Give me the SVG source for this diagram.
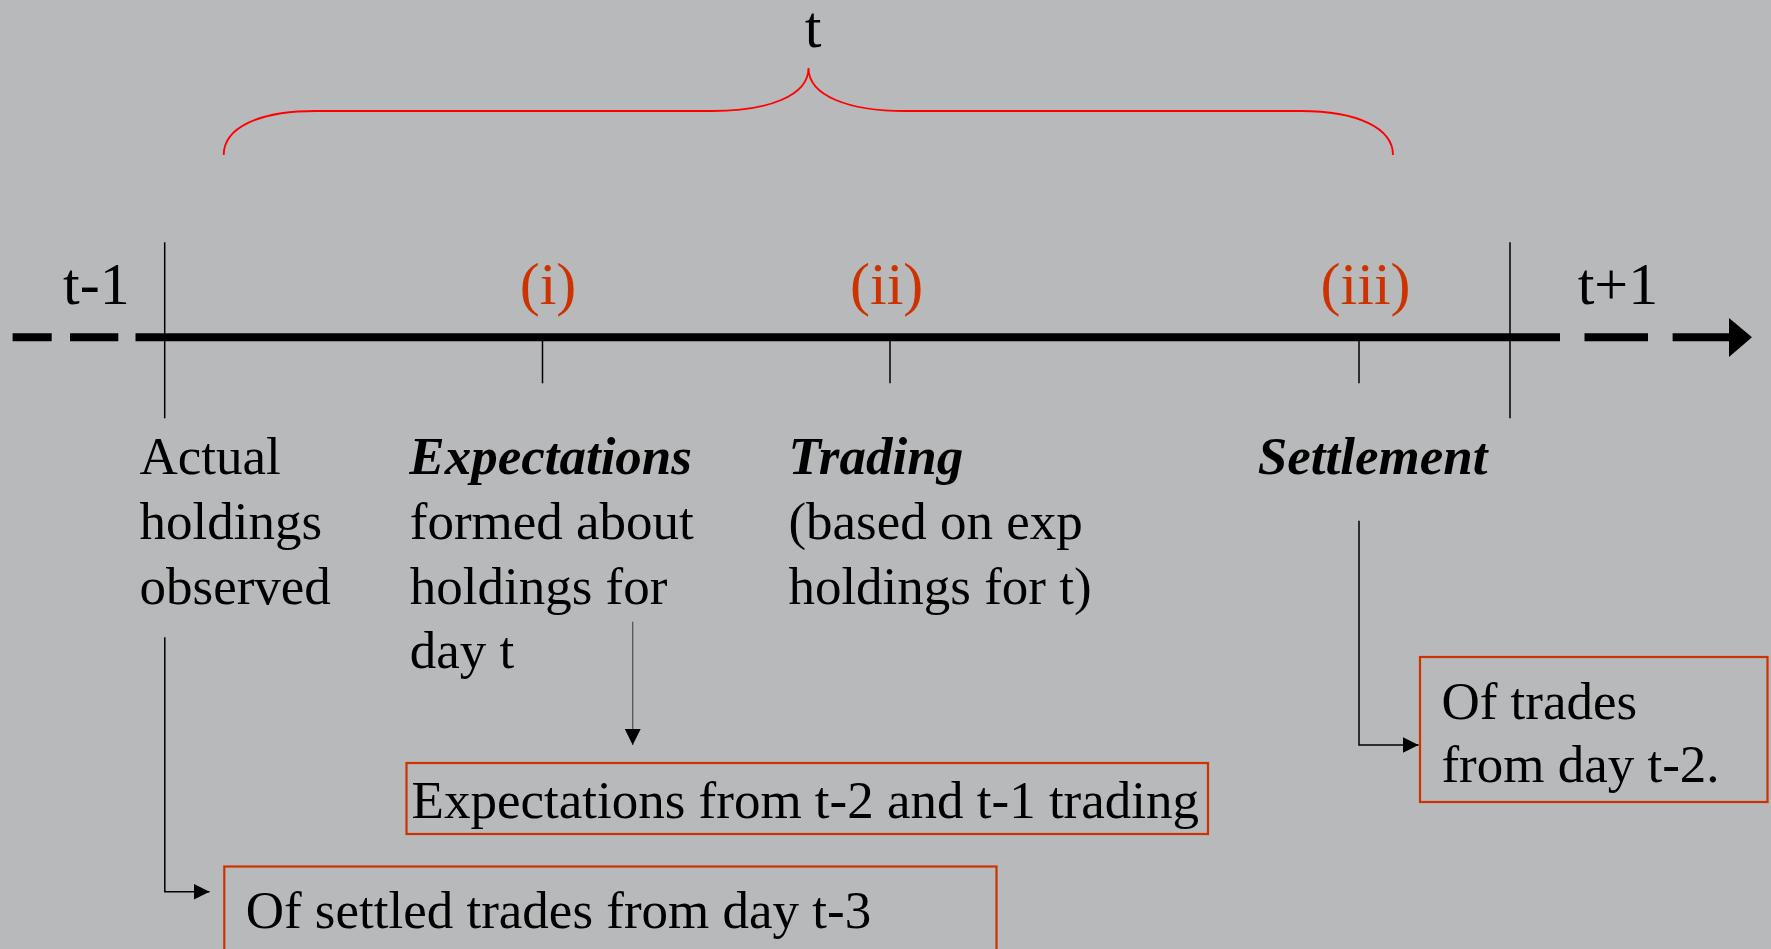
<svg xmlns="http://www.w3.org/2000/svg" width="1771" height="949" viewBox="0 0 1771 949">
  <defs>
    <style>
      .txt { font-family: "Liberation Serif", "Times New Roman", serif; font-size: 53px; fill: #000; }
      .big { font-size: 60px; }
      .bi { font-weight: bold; font-style: italic; }
      .num { font-family: "Liberation Serif", "Times New Roman", serif; font-size: 60px; fill: #cc3300; text-anchor: middle; }
      .tick { stroke: #000; stroke-width: 1.5; fill: none; }
      .box { fill: none; stroke: #cc3300; stroke-width: 2.2; }
      .conn { stroke: #000; stroke-width: 1.5; fill: none; }
    </style>
    <marker id="arr" viewBox="0 0 10 10" refX="10" refY="5" markerWidth="16" markerHeight="16" markerUnits="userSpaceOnUse" orient="auto">
      <path d="M0,0 L10,5 L0,10 Z" fill="#000"/>
    </marker>
  </defs>

  <rect width="1771" height="949" fill="#b8b9bb"/>

  <!-- brace spanning day t -->
  <g id="brace">
    <path d="M223.7 155 C223.7 128 258 111 315.7 111 L712 111 C768 111 808.5 96 808.5 68 C808.5 96 849 111 905 111 L1301 111 C1357 111 1393 128 1393 155" fill="none" stroke="#ff0000" stroke-width="1.8"/>
    <text class="txt big" x="813" y="47" text-anchor="middle">t</text>
  </g>

  <!-- time axis -->
  <g id="axis">
    <line x1="12.6" y1="337.3" x2="51.7" y2="337.3" stroke="#000" stroke-width="8"/>
    <line x1="70" y1="337.3" x2="118.3" y2="337.3" stroke="#000" stroke-width="8"/>
    <line x1="135.5" y1="337.3" x2="1560" y2="337.3" stroke="#000" stroke-width="8"/>
    <line x1="1584.5" y1="337.3" x2="1648" y2="337.3" stroke="#000" stroke-width="8"/>
    <line x1="1672.6" y1="337.3" x2="1731" y2="337.3" stroke="#000" stroke-width="8"/>
    <path d="M1729 318 L1752 337.3 L1729 357 Z" fill="#000"/>
    <line class="tick" x1="164.7" y1="242.3" x2="164.7" y2="418.3"/>
    <line class="tick" x1="1510" y1="242.3" x2="1510" y2="418.3"/>
    <line class="tick" x1="542.5" y1="337" x2="542.5" y2="383.3"/>
    <line class="tick" x1="890" y1="337" x2="890" y2="383.3"/>
    <line class="tick" x1="1359" y1="337" x2="1359" y2="383.3"/>
    <text class="txt big" x="63" y="304">t-1</text>
    <text class="txt big" x="1577.7" y="304">t+1</text>
    <text class="num" x="548" y="304">(i)</text>
    <text class="num" x="886.7" y="304">(ii)</text>
    <text class="num" x="1365.6" y="304">(iii)</text>
  </g>

  <g id="actual">
    <text class="txt" x="139.5" y="474">Actual</text>
    <text class="txt" x="139.5" y="539">holdings</text>
    <text class="txt" x="139.5" y="604">observed</text>
  </g>

  <g id="expectations">
    <text class="txt bi" x="409.3" y="474">Expectations</text>
    <text class="txt" x="409.8" y="539">formed about</text>
    <text class="txt" x="409.8" y="604">holdings for</text>
    <text class="txt" x="409.8" y="668">day t</text>
  </g>

  <g id="trading">
    <text class="txt bi" x="788.4" y="474">Trading</text>
    <text class="txt" x="788.4" y="539">(based on exp</text>
    <text class="txt" x="788.4" y="604">holdings for t)</text>
  </g>

  <g id="settlement">
    <text class="txt bi" x="1257.8" y="474">Settlement</text>
  </g>

  <g id="box-expectations">
    <rect class="box" x="406.5" y="763" width="801.5" height="71"/>
    <text class="txt" x="411.6" y="818">Expectations from t-2 and t-1 trading</text>
  </g>

  <g id="box-settled">
    <rect class="box" x="224.3" y="866.5" width="772.2" height="100"/>
    <text class="txt" x="245.7" y="928">Of settled trades from day t-3</text>
  </g>

  <g id="box-trades">
    <rect class="box" x="1420" y="657" width="347.5" height="145"/>
    <text class="txt" x="1441.4" y="719">Of trades</text>
    <text class="txt" x="1441.4" y="782">from day t-2.</text>
  </g>

  <g id="connectors">
    <path d="M632.7 621.7 L632.7 745" fill="none" stroke="#555" stroke-width="1.3" marker-end="url(#arr)"/>
    <path class="conn" d="M164.8 637.3 L164.8 891.7 L209.5 891.7" marker-end="url(#arr)"/>
    <path class="conn" d="M1359 520.7 L1359 745 L1418.6 745" marker-end="url(#arr)"/>
  </g>
</svg>
